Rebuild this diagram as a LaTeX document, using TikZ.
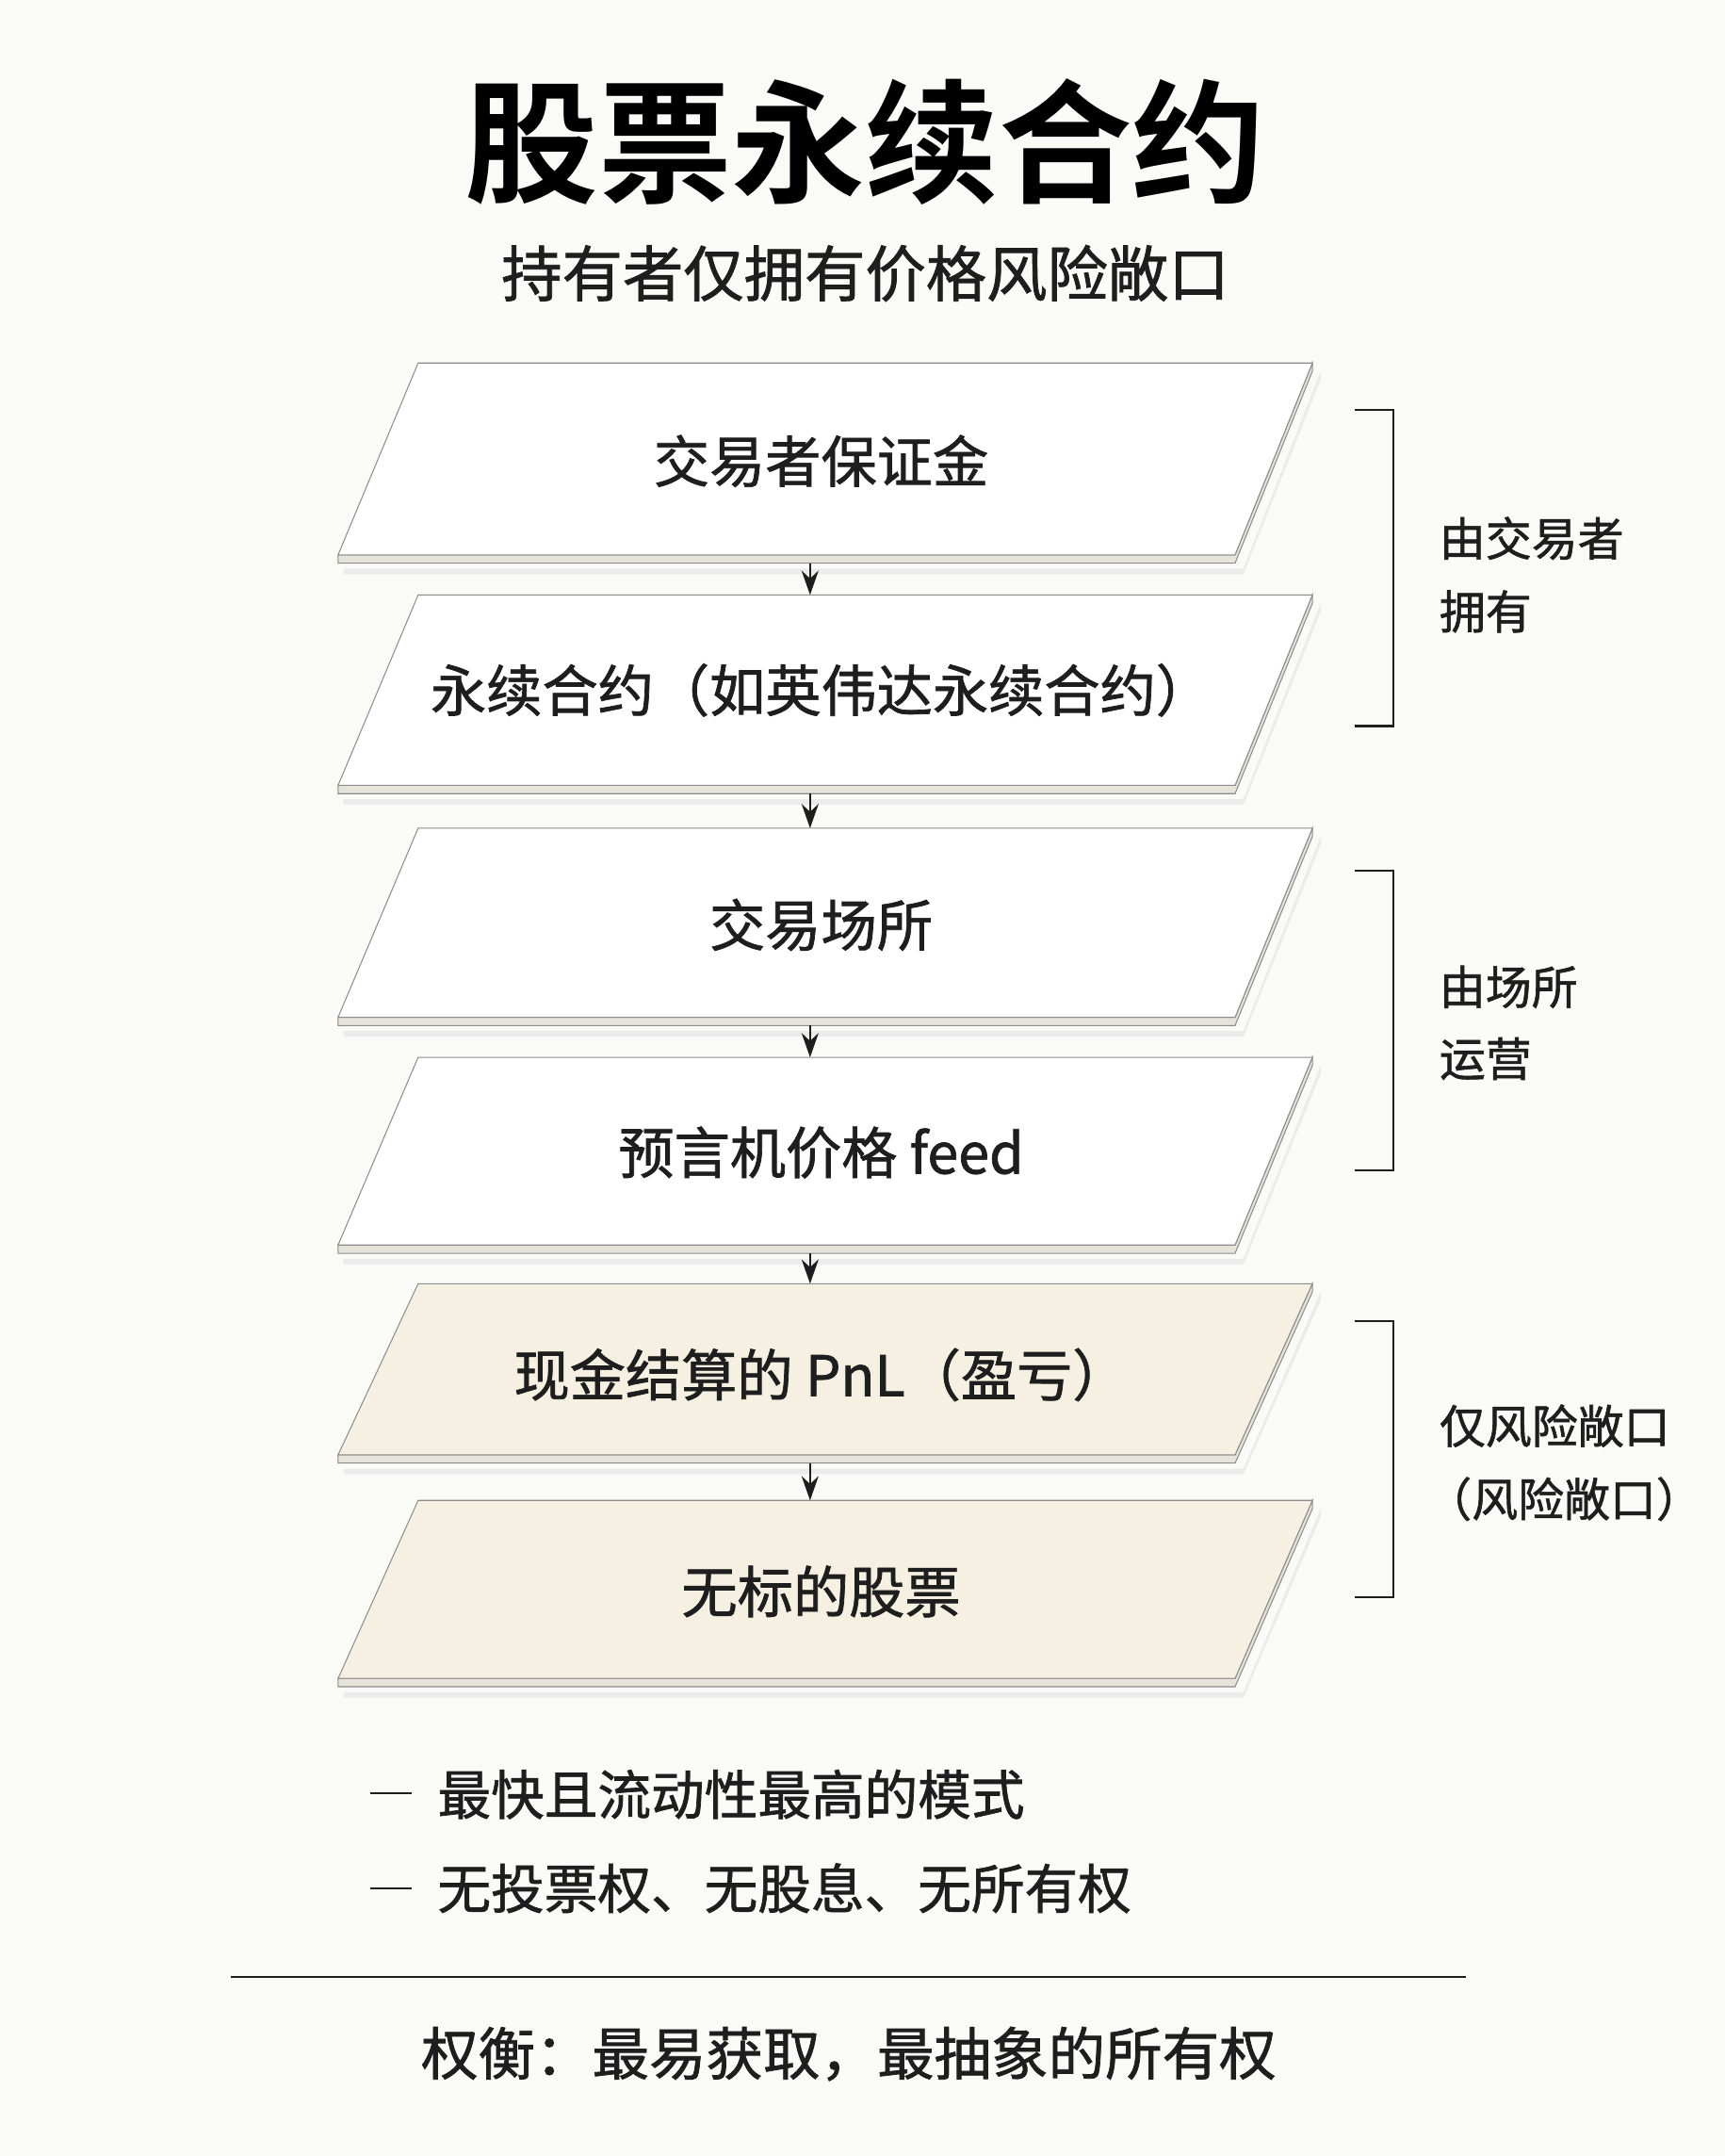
\documentclass[tikz,border=0pt]{standalone}
\usepackage{fontspec}
\newfontfamily\cjk[FakeBold=1.2]{Noto Sans CJK SC}
\newfontfamily\cjkb{Noto Sans CJK SC Bold}
\usetikzlibrary{arrows.meta}
\definecolor{bg}{HTML}{FAFAF7}
\definecolor{cream}{HTML}{F6F0E2}
\definecolor{slab}{HTML}{E6E3DA}
\definecolor{ink}{HTML}{1E1E1E}
\begin{document}
\begin{tikzpicture}[x=0.04cm,y=-0.04cm,
  boxtext/.style={font=\cjk\fontsize{46}{52}\selectfont,text=ink,anchor=center},
  side/.style={font=\cjk\fontsize{38}{44}\selectfont,text=ink,anchor=west},
  bul/.style={font=\cjk\fontsize{44}{50}\selectfont,text=ink,anchor=west},
  arr/.style={-{Stealth[length=20pt,width=14pt]},line width=1.6pt,ink},
  brk/.style={line width=1.6pt,ink}]
\fill[bg] (0,0) rectangle (1250,1562);
\useasboundingbox (0,0) rectangle (1250,1562);
\node[font=\cjkb\fontsize{110}{120}\selectfont,text=black] (title) at (627,103) {股票永续合约};
\node[font=\cjk\fontsize{50}{56}\selectfont,text=ink] (sub) at (627,198) {持有者仅拥有价格风险敞口};
\newcommand{\plate}[4]{% top y, bottom y, fill, name
  \fill[black!8] (249,#2+10) -- (901,#2+10) -- (957,#1+6) -- (957,#1+12) -- (901,#2+14) -- (249,#2+14) -- cycle;
  \filldraw[fill=slab,draw=black!45,line width=0.8pt] (245,#2) -- (895,#2) -- (951,#1) -- (951,#1+6) -- (895,#2+6) -- (245,#2+6) -- cycle;
  \filldraw[fill=#3,draw=black!45,line width=0.8pt] (303,#1) -- (951,#1) -- (895,#2) -- (245,#2) -- cycle;
  \coordinate (#4t) at (587,#1);
  \coordinate (#4b) at (587,#2+6);
}
\plate{263}{402}{white}{p1}
\plate{431}{569}{white}{p2}
\plate{600}{737}{white}{p3}
\plate{766}{902}{white}{p4}
\plate{930}{1054}{cream}{p5}
\plate{1087}{1216}{cream}{p6}
\node[boxtext] (t1) at (595,334) {交易者保证金};
\node[boxtext] (t2) at (595,500) {永续合约（如英伟达永续合约）};
\node[boxtext] (t3) at (595,670) {交易场所};
\node[boxtext] (t4) at (595,835) {预言机价格 feed};
\node[boxtext] (t5) at (595,996) {现金结算的 PnL（盈亏）};
\node[boxtext] (t6) at (595,1153) {无标的股票};
\draw[arr] (p1b) -- (p2t);
\draw[arr] (p2b) -- (p3t);
\draw[arr] (p3b) -- (p4t);
\draw[arr] (p4b) -- (p5t);
\draw[arr] (p5b) -- (p6t);
\draw[brk] (982,297) -- (1010,297) -- (1010,526) -- (982,526);
\draw[brk] (982,631) -- (1010,631) -- (1010,848) -- (982,848);
\draw[brk] (982,957) -- (1010,957) -- (1010,1157) -- (982,1157);
\node[side] (s1) at (1040,390) {由交易者};
\node[side] (s2) at (1040,443) {拥有};
\node[side] (s3) at (1040,715) {由场所};
\node[side] (s4) at (1040,767) {运营};
\node[side] (s5) at (1040,1033) {仅风险敞口};
\node[side] (s6) at (1030,1086) {（风险敞口）};
\draw[line width=1.8pt,ink] (268,1299) -- (298,1299);
\draw[line width=1.8pt,ink] (268,1368) -- (298,1368);
\node[bul] (b1) at (314,1300) {最快且流动性最高的模式};
\node[bul] (b2) at (314,1368) {无投票权、无股息、无所有权};
\draw[line width=1.4pt,ink] (167,1432) -- (1062,1432);
\node[font=\cjk\fontsize{47}{52}\selectfont,text=ink] (foot) at (615,1488) {权衡：最易获取，最抽象的所有权};
\end{tikzpicture}
\end{document}
